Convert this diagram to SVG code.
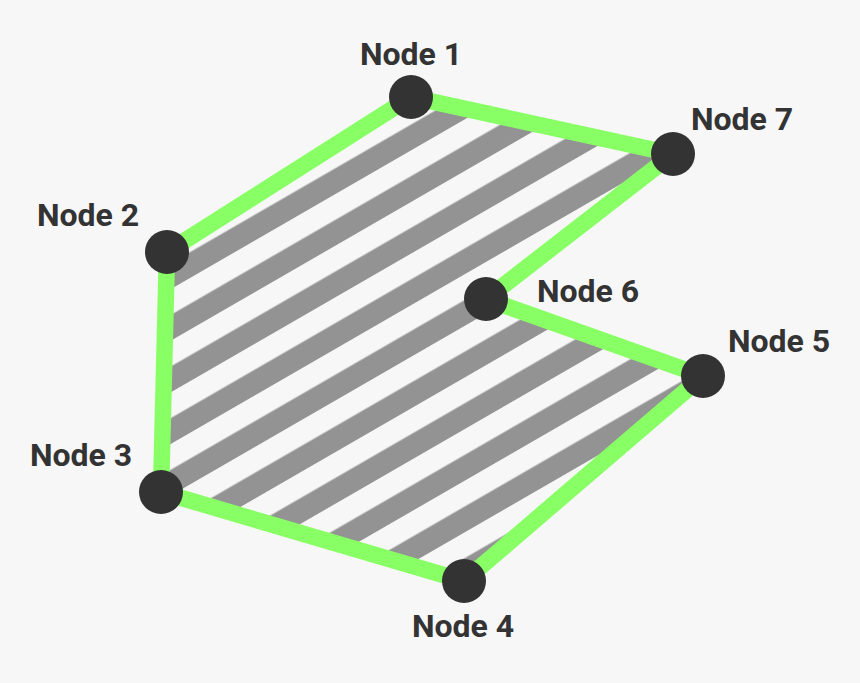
<svg xmlns="http://www.w3.org/2000/svg" width="860" height="683" viewBox="0 0 860 683">
  <style>
    .edge { stroke: #89ff66; stroke-width: 16.5; stroke-linecap: round; fill: none; }
    .node circle { fill: #333333; }
    .label { font-family: Roboto, "Liberation Sans", sans-serif; font-weight: 700; font-size: 32px; fill: #333333; text-anchor: middle; }
  </style>
  <defs>
    <pattern id="hatch" patternUnits="userSpaceOnUse" width="20" height="44.7" patternTransform="rotate(-30)">
      <rect x="0" y="0.5" width="20" height="22.35" fill="#939393"/>
    </pattern>
  </defs>
  <rect width="860" height="683" fill="#f7f7f7"/>
  <polygon id="area" points="411,97 673,154 486,299 703,376 464,581 161,492 167,252" fill="url(#hatch)"/>
  <g id="connectors">
    <line class="edge" x1="411" y1="97" x2="673" y2="154"/>
    <line class="edge" x1="673" y1="154" x2="486" y2="299"/>
    <line class="edge" x1="486" y1="299" x2="703" y2="376"/>
    <line class="edge" x1="703" y1="376" x2="464" y2="581"/>
    <line class="edge" x1="464" y1="581" x2="161" y2="492"/>
    <line class="edge" x1="161" y1="492" x2="167" y2="252"/>
    <line class="edge" x1="167" y1="252" x2="411" y2="97"/>
  </g>
  <g id="node1" class="node"><circle cx="411" cy="97" r="22"/><text class="label" x="411" y="65">Node 1</text></g>
  <g id="node2" class="node"><circle cx="167" cy="252" r="22"/><text class="label" x="88" y="226">Node 2</text></g>
  <g id="node3" class="node"><circle cx="161" cy="492" r="22"/><text class="label" x="81" y="466">Node 3</text></g>
  <g id="node4" class="node"><circle cx="464" cy="581" r="22"/><text class="label" x="463" y="637">Node 4</text></g>
  <g id="node5" class="node"><circle cx="703" cy="376" r="22"/><text class="label" x="779" y="352">Node 5</text></g>
  <g id="node6" class="node"><circle cx="486" cy="299" r="22"/><text class="label" x="588" y="302">Node 6</text></g>
  <g id="node7" class="node"><circle cx="673" cy="154" r="22"/><text class="label" x="742" y="130">Node 7</text></g>
</svg>
